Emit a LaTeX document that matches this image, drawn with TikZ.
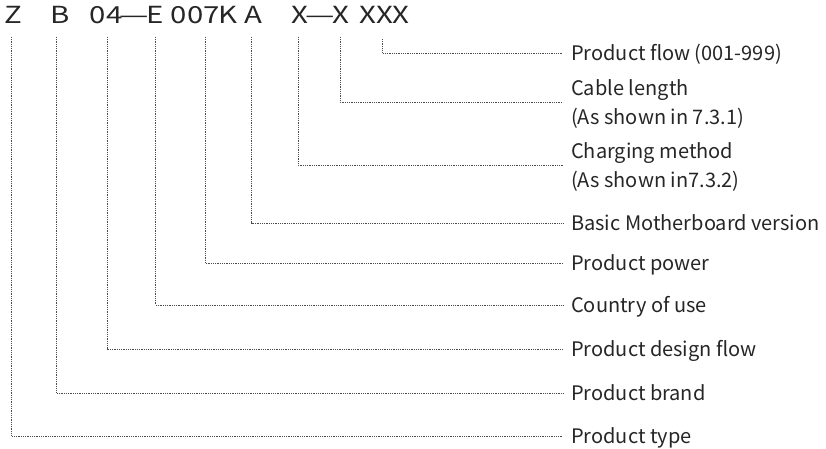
\documentclass[tikz,border=0pt]{standalone}
\usepackage{fontspec}
\setmainfont{Noto Sans CJK SC}
\newfontfamily\codefont[FakeStretch=1.25]{Noto Sans CJK SC}
\newfontfamily\dashfont[FakeStretch=1.4]{Noto Sans CJK SC}
\begin{document}
\begin{tikzpicture}[x=1pt,y=-1pt,
  conn/.style={line width=0.9pt, draw=black!70, dash pattern=on 0.9pt off 0.9pt},
  code/.style={anchor=base west, inner sep=0pt, font=\codefont\fontsize{23.5}{23.5}\selectfont, text=black!85},
  dashc/.style={anchor=base west, inner sep=0pt, font=\dashfont\fontsize{23.5}{23.5}\selectfont, text=black!85},
  lab/.style={anchor=west, inner xsep=8pt, inner ysep=0pt, text height=15pt, text depth=0pt,
    font=\fontsize{20}{29}\selectfont, text=black!85},
  labtwo/.style={anchor=west, inner xsep=8pt, inner ysep=0pt, text depth=0pt,
    font=\fontsize{20}{29}\selectfont, text=black!85, align=left}]
\useasboundingbox (0,0) rectangle (826,449);
% code string
\node[code] (cZ) at (4,24) {Z};
\node[code] (cB) at (50.5,24) {B};
\node[code] (c04) at (89.5,24) {04};
\node[dashc] (cd1) at (119,23.5) {—};
\node[code] (cE) at (146.5,24) {E};
\node[code] (c007) at (170.5,24) {007};
\node[code] (cK) at (218.5,24) {K};
\node[code] (cA) at (244,24) {A};
\node[code] (cX1) at (291,24) {X};
\node[dashc] (cd2) at (305.5,23.5) {—};
\node[code] (cX2) at (332,24) {X};
\node[code] (cXXX) at (359,24) {XXX};
% line tops
\coordinate (tZ) at (11.7,37);
\coordinate (tB) at (56.7,37);
\coordinate (t04) at (107,37);
\coordinate (tE) at (155.7,37);
\coordinate (t007) at (205,37);
\coordinate (tA) at (251.7,37);
\coordinate (tX1) at (298,37);
\coordinate (tX2) at (340,37);
\coordinate (tXXX) at (382.7,39);
% labels
\node[lab] (lflow) at (563,53) {Product flow (001-999)};
\node[labtwo] (lcable) at (563,102) {Cable length\\(As shown in 7.3.1)};
\node[labtwo] (lcharge) at (563,165) {Charging method\\(As shown in7.3.2)};
\node[lab] (lbasic) at (563,223) {Basic Motherboard version};
\node[lab] (lpower) at (563,263) {Product power};
\node[lab] (lcountry) at (563,305) {Country of use};
\node[lab] (ldesign) at (563,349) {Product design flow};
\node[lab] (lbrand) at (563,393) {Product brand};
\node[lab] (ltype) at (563,436) {Product type};
% connectors
\draw[conn] (tXXX) |- (lflow.west);
\draw[conn] (tX2) |- (lcable.west);
\draw[conn] (tX1) |- (lcharge.west);
\draw[conn] (tA) |- (lbasic.west);
\draw[conn] (t007) |- (lpower.west);
\draw[conn] (tE) |- (lcountry.west);
\draw[conn] (t04) |- (ldesign.west);
\draw[conn] (tB) |- (lbrand.west);
\draw[conn] (tZ) |- (ltype.west);
\end{tikzpicture}
\end{document}
